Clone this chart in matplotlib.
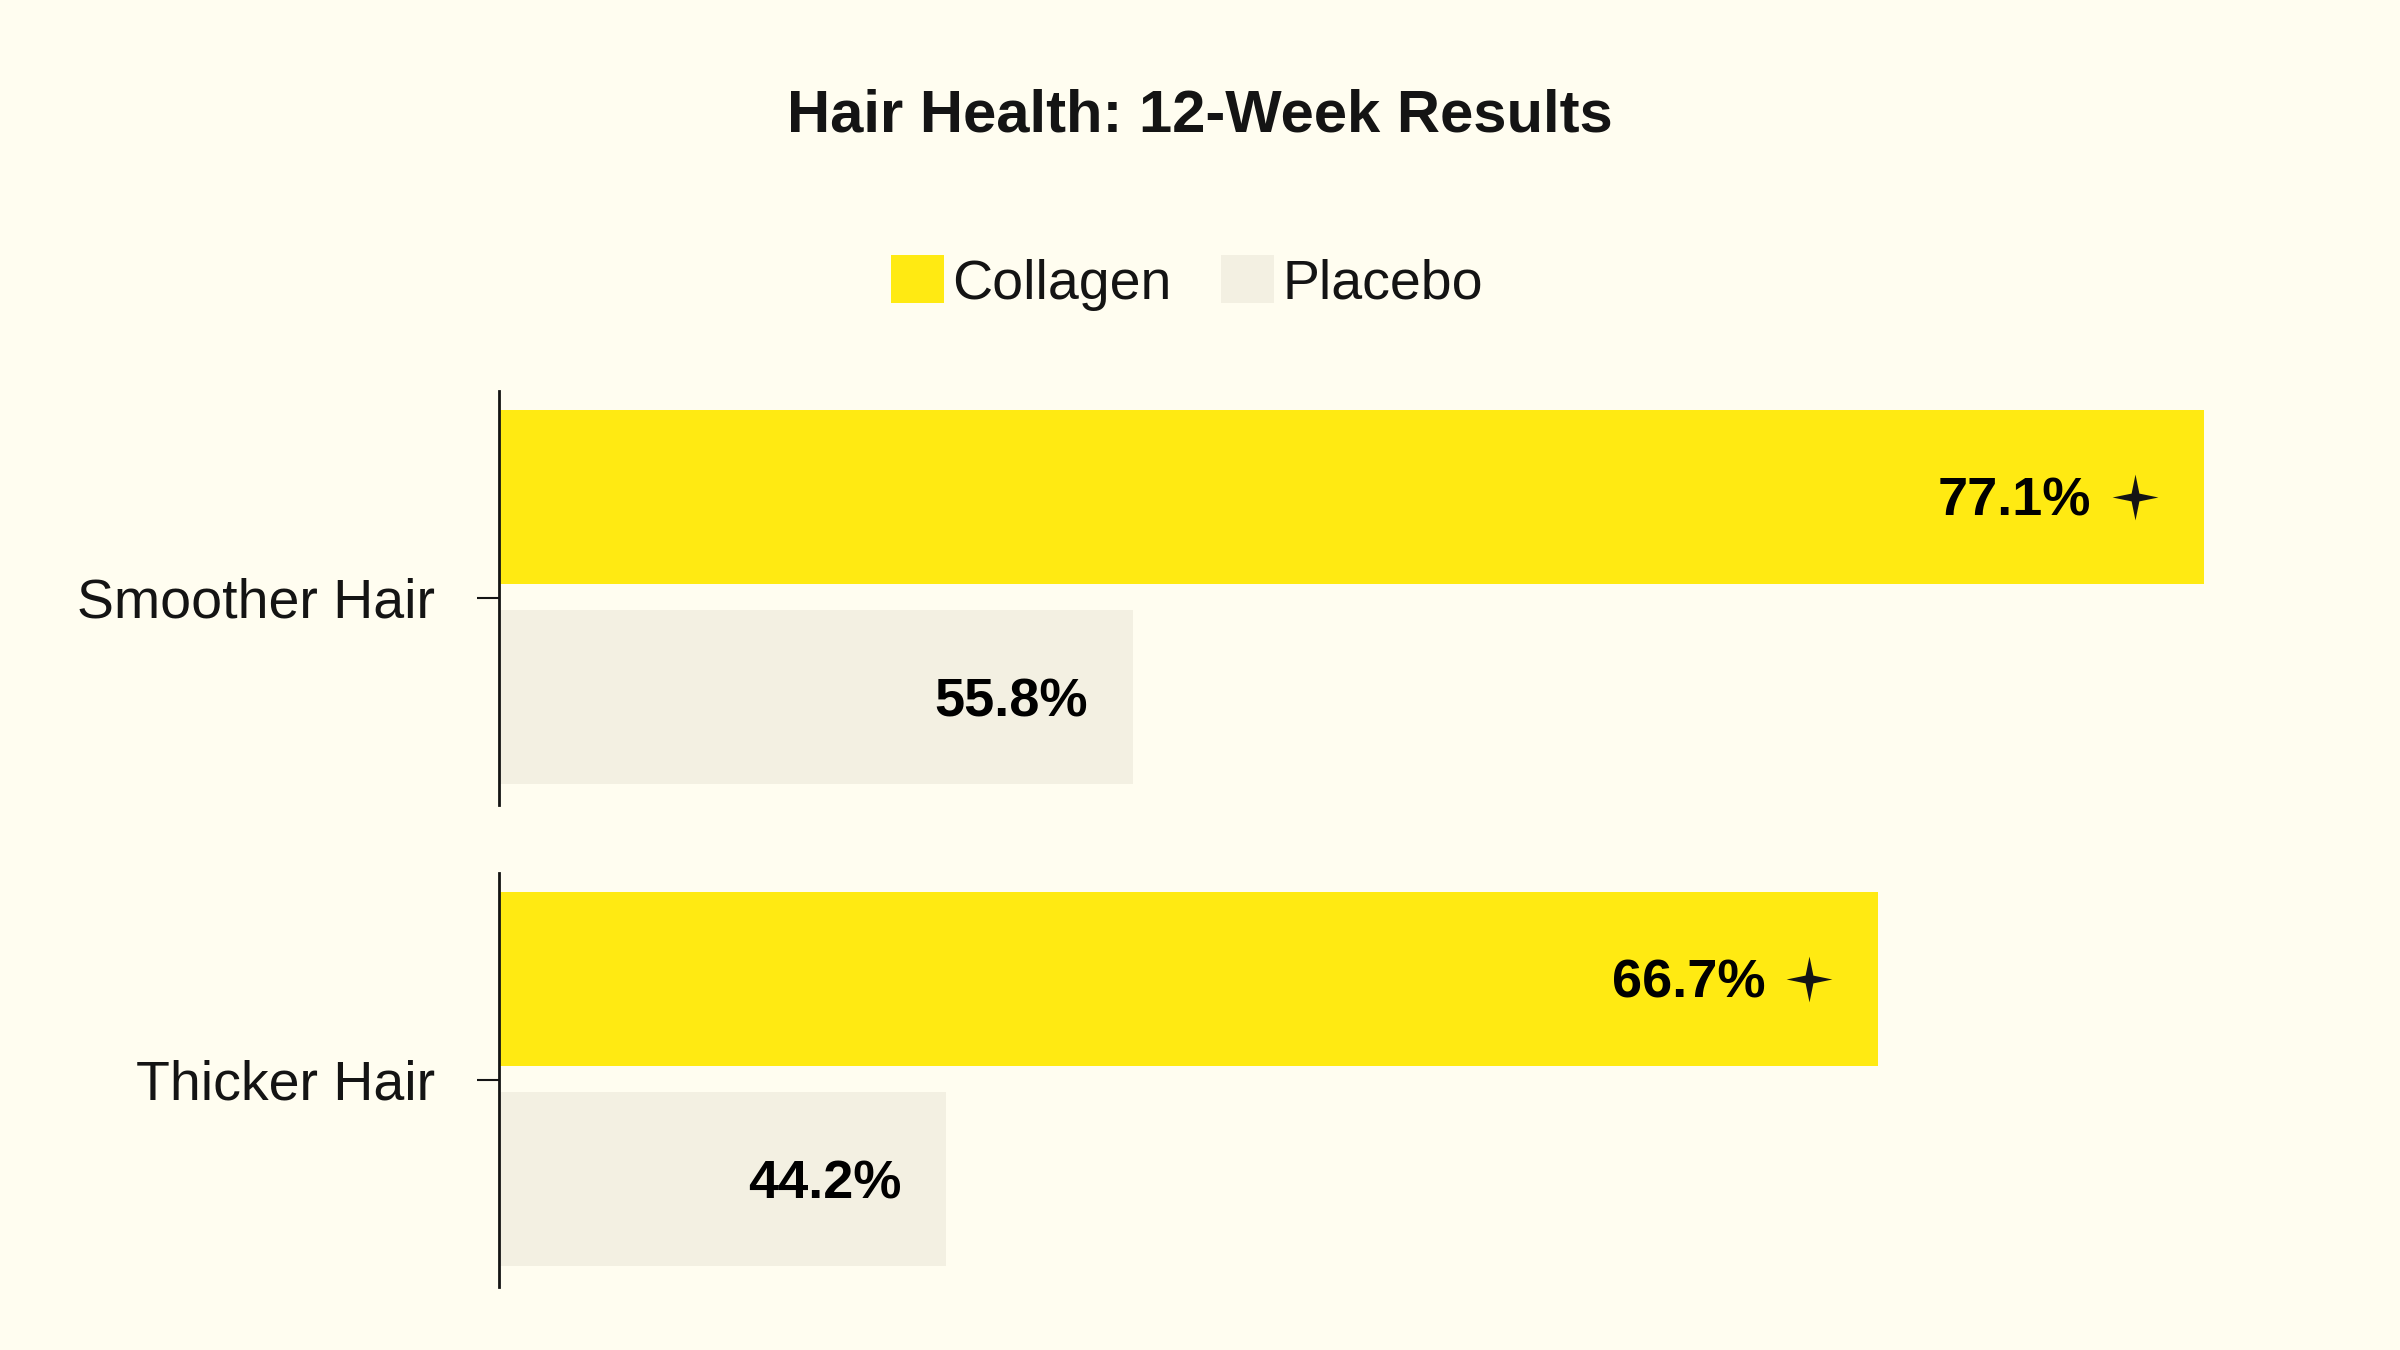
import matplotlib
matplotlib.use("Agg")
import matplotlib.pyplot as plt
from matplotlib.patches import Patch
from matplotlib.path import Path
from matplotlib.transforms import ScaledTranslation

categories = ["Smoother Hair", "Thicker Hair"]
groups = ["Collagen", "Placebo"]
collagen = [77.1, 66.7]
placebo = [55.8, 44.2]
# visible x-range of each panel (the bars start off the left edge)
x_ranges = [(43.2, 78.6), (33.4, 76.4)]

bg = "#FFFDF0"
yellow = "#FFEA12"
beige = "#F3F0E2"
ink = "#141414"

plt.rcParams["font.family"] = ["Liberation Sans", "DejaVu Sans"]

# four-pointed sparkle
w = 0.17
star = Path([(0, 1), (w, w), (1, 0), (w, -w), (0, -1), (-w, -w), (-1, 0), (-w, w), (0, 1)],
            [Path.MOVETO] + [Path.LINETO] * 7 + [Path.CLOSEPOLY])

fig = plt.figure(figsize=(24, 13.5), dpi=100, facecolor=bg)

panel_boxes = [[0.2079, 0.4037, 0.742, 0.3067],
               [0.2079, 0.0467, 0.742, 0.3067]]

for i, cat in enumerate(categories):
    ax = fig.add_axes(panel_boxes[i])
    ax.set_facecolor(bg)
    ax.barh([0.244], [collagen[i]], height=0.42, color=yellow)
    ax.barh([-0.24], [placebo[i]], height=0.42, color=beige)
    ax.set_xlim(*x_ranges[i])
    ax.set_ylim(-0.5, 0.5)

    shift = ax.transData + ScaledTranslation(-0.69, 0.0, fig.dpi_scale_trans)
    ax.plot([collagen[i]], [0.244], marker=star, ms=33, color=ink, mew=0,
            transform=shift, clip_on=False)
    ax.annotate(f"{collagen[i]}%", (collagen[i], 0.244), xytext=(-113, -5),
                textcoords="offset pixels", ha="right", va="center",
                fontsize=39, fontweight="bold", color="black")
    ax.annotate(f"{placebo[i]}%", (placebo[i], -0.24), xytext=(-45, -5),
                textcoords="offset pixels", ha="right", va="center",
                fontsize=39, fontweight="bold", color="black")

    ax.set_yticks([0])
    ax.set_yticklabels([cat], fontsize=40, color=ink)
    ax.tick_params(axis="y", length=16, width=1.5, pad=30, color=ink)
    ax.set_xticks([])
    for s in ["top", "right", "bottom"]:
        ax.spines[s].set_visible(False)
    ax.spines["left"].set_linewidth(2)
    ax.spines["left"].set_color(ink)

fig.text(0.5, 1 - 116 / 1350, "Hair Health: 12-Week Results", ha="center", va="center",
         fontsize=43, fontweight="bold", color=ink)

handles = [Patch(facecolor=yellow, label=groups[0]), Patch(facecolor=beige, label=groups[1])]
fig.legend(handles=handles, loc="center", bbox_to_anchor=(1187 / 2400, 1 - 283 / 1350),
           ncol=2, frameon=False, fontsize=40, handlelength=0.95, handleheight=0.95,
           handletextpad=0.15, columnspacing=0.9, labelcolor=ink)

fig.savefig("out.png", dpi=100, facecolor=bg)
